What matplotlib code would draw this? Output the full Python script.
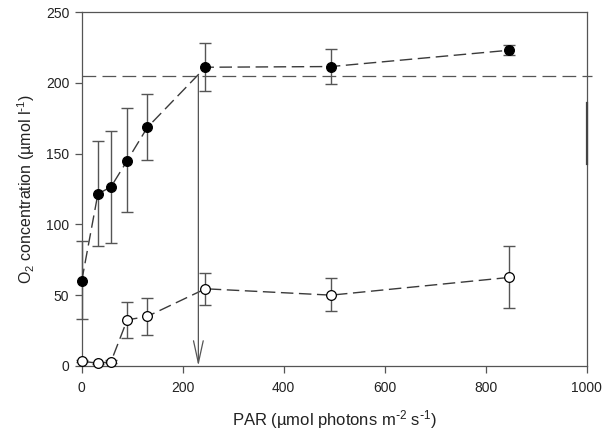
import matplotlib
matplotlib.use("Agg")
import matplotlib.pyplot as plt
import numpy as np

plt.rcParams['font.family'] = ['Liberation Sans', 'DejaVu Sans']
plt.rcParams['mathtext.default'] = 'regular'

par = [0, 32, 58, 90, 130, 245, 494, 846]
light = [60, 121.5, 126.5, 145, 168.5, 211, 211.5, 223]
light_hi = [88, 159, 166, 182, 192, 228, 224, 226.5]
light_lo = [33, 85, 87, 108.5, 145.5, 194, 199, 219.5]
dark = [3.5, 1.8, 3, 32.5, 35, 54.5, 50, 62.5]
dark_hi = [4.5, 2.5, 4, 45, 48, 66, 62, 84.5]
dark_lo = [2.5, 1.2, 2, 19.5, 22, 43, 39, 41]
sat_level = 205
sat_par = 231
xticks = [0, 200, 400, 600, 800, 1000]
yticks = [0, 50, 100, 150, 200, 250]

fig = plt.figure(figsize=(6.03, 4.30), dpi=100)
ax = fig.add_axes([0.1355, 0.149, 0.8375, 0.823])

gray = '#555555'
lc = '#3a3a3a'

def plot_series(y, hi, lo, face):
    y = np.array(y); hi = np.array(hi); lo = np.array(lo)
    ax.errorbar(par, y, yerr=[y - lo, hi - y], fmt='none', ecolor=gray,
                elinewidth=1.0, capsize=4.5, capthick=1.0, clip_on=False, zorder=2)
    ax.plot(par, y, linestyle=(0, (9, 4)), color=lc, linewidth=1.0,
            marker='o', markersize=7, markerfacecolor=face,
            markeredgecolor='black', markeredgewidth=0.9, clip_on=False, zorder=3)

plot_series(light, light_hi, light_lo, 'black')
plot_series(dark, dark_hi, dark_lo, 'white')

# saturation line
ax.plot([0, 1010], [sat_level, sat_level], linestyle=(0, (11, 5)), color=gray,
        linewidth=0.9, clip_on=False, zorder=1)
# vertical arrow down to x axis
ax.annotate('', xy=(sat_par, 0), xytext=(sat_par, sat_level),
            arrowprops=dict(arrowstyle='->,head_length=1.6,head_width=0.35',
                            color=gray, lw=0.9, shrinkA=0, shrinkB=0))
# small mark on right spine
ax.plot([1000, 1000], [143, 186], color='#444444', linewidth=1.6, clip_on=False, zorder=4)

ax.set_xlim(0, 1000)
ax.set_ylim(0, 250)
ax.set_xticks(xticks)
ax.set_yticks(yticks)
ax.tick_params(direction='out', length=5, width=0.9, color=gray, labelsize=10,
               labelcolor='#222222')
ax.tick_params(axis='x', pad=6)
ax.tick_params(axis='y', pad=4)
for s in ax.spines.values():
    s.set_color(gray)
    s.set_linewidth(0.9)

ax.set_xlabel(r'PAR (µmol photons m$^{\text{-}2}$ s$^{\text{-}1}$)', fontsize=12, color='#222222', labelpad=9)
ax.set_ylabel(r'O$_2$ concentration (µmol l$^{\text{-}1}$)', fontsize=11.5, color='#222222', labelpad=6)

fig.savefig('out.png', dpi=100)
